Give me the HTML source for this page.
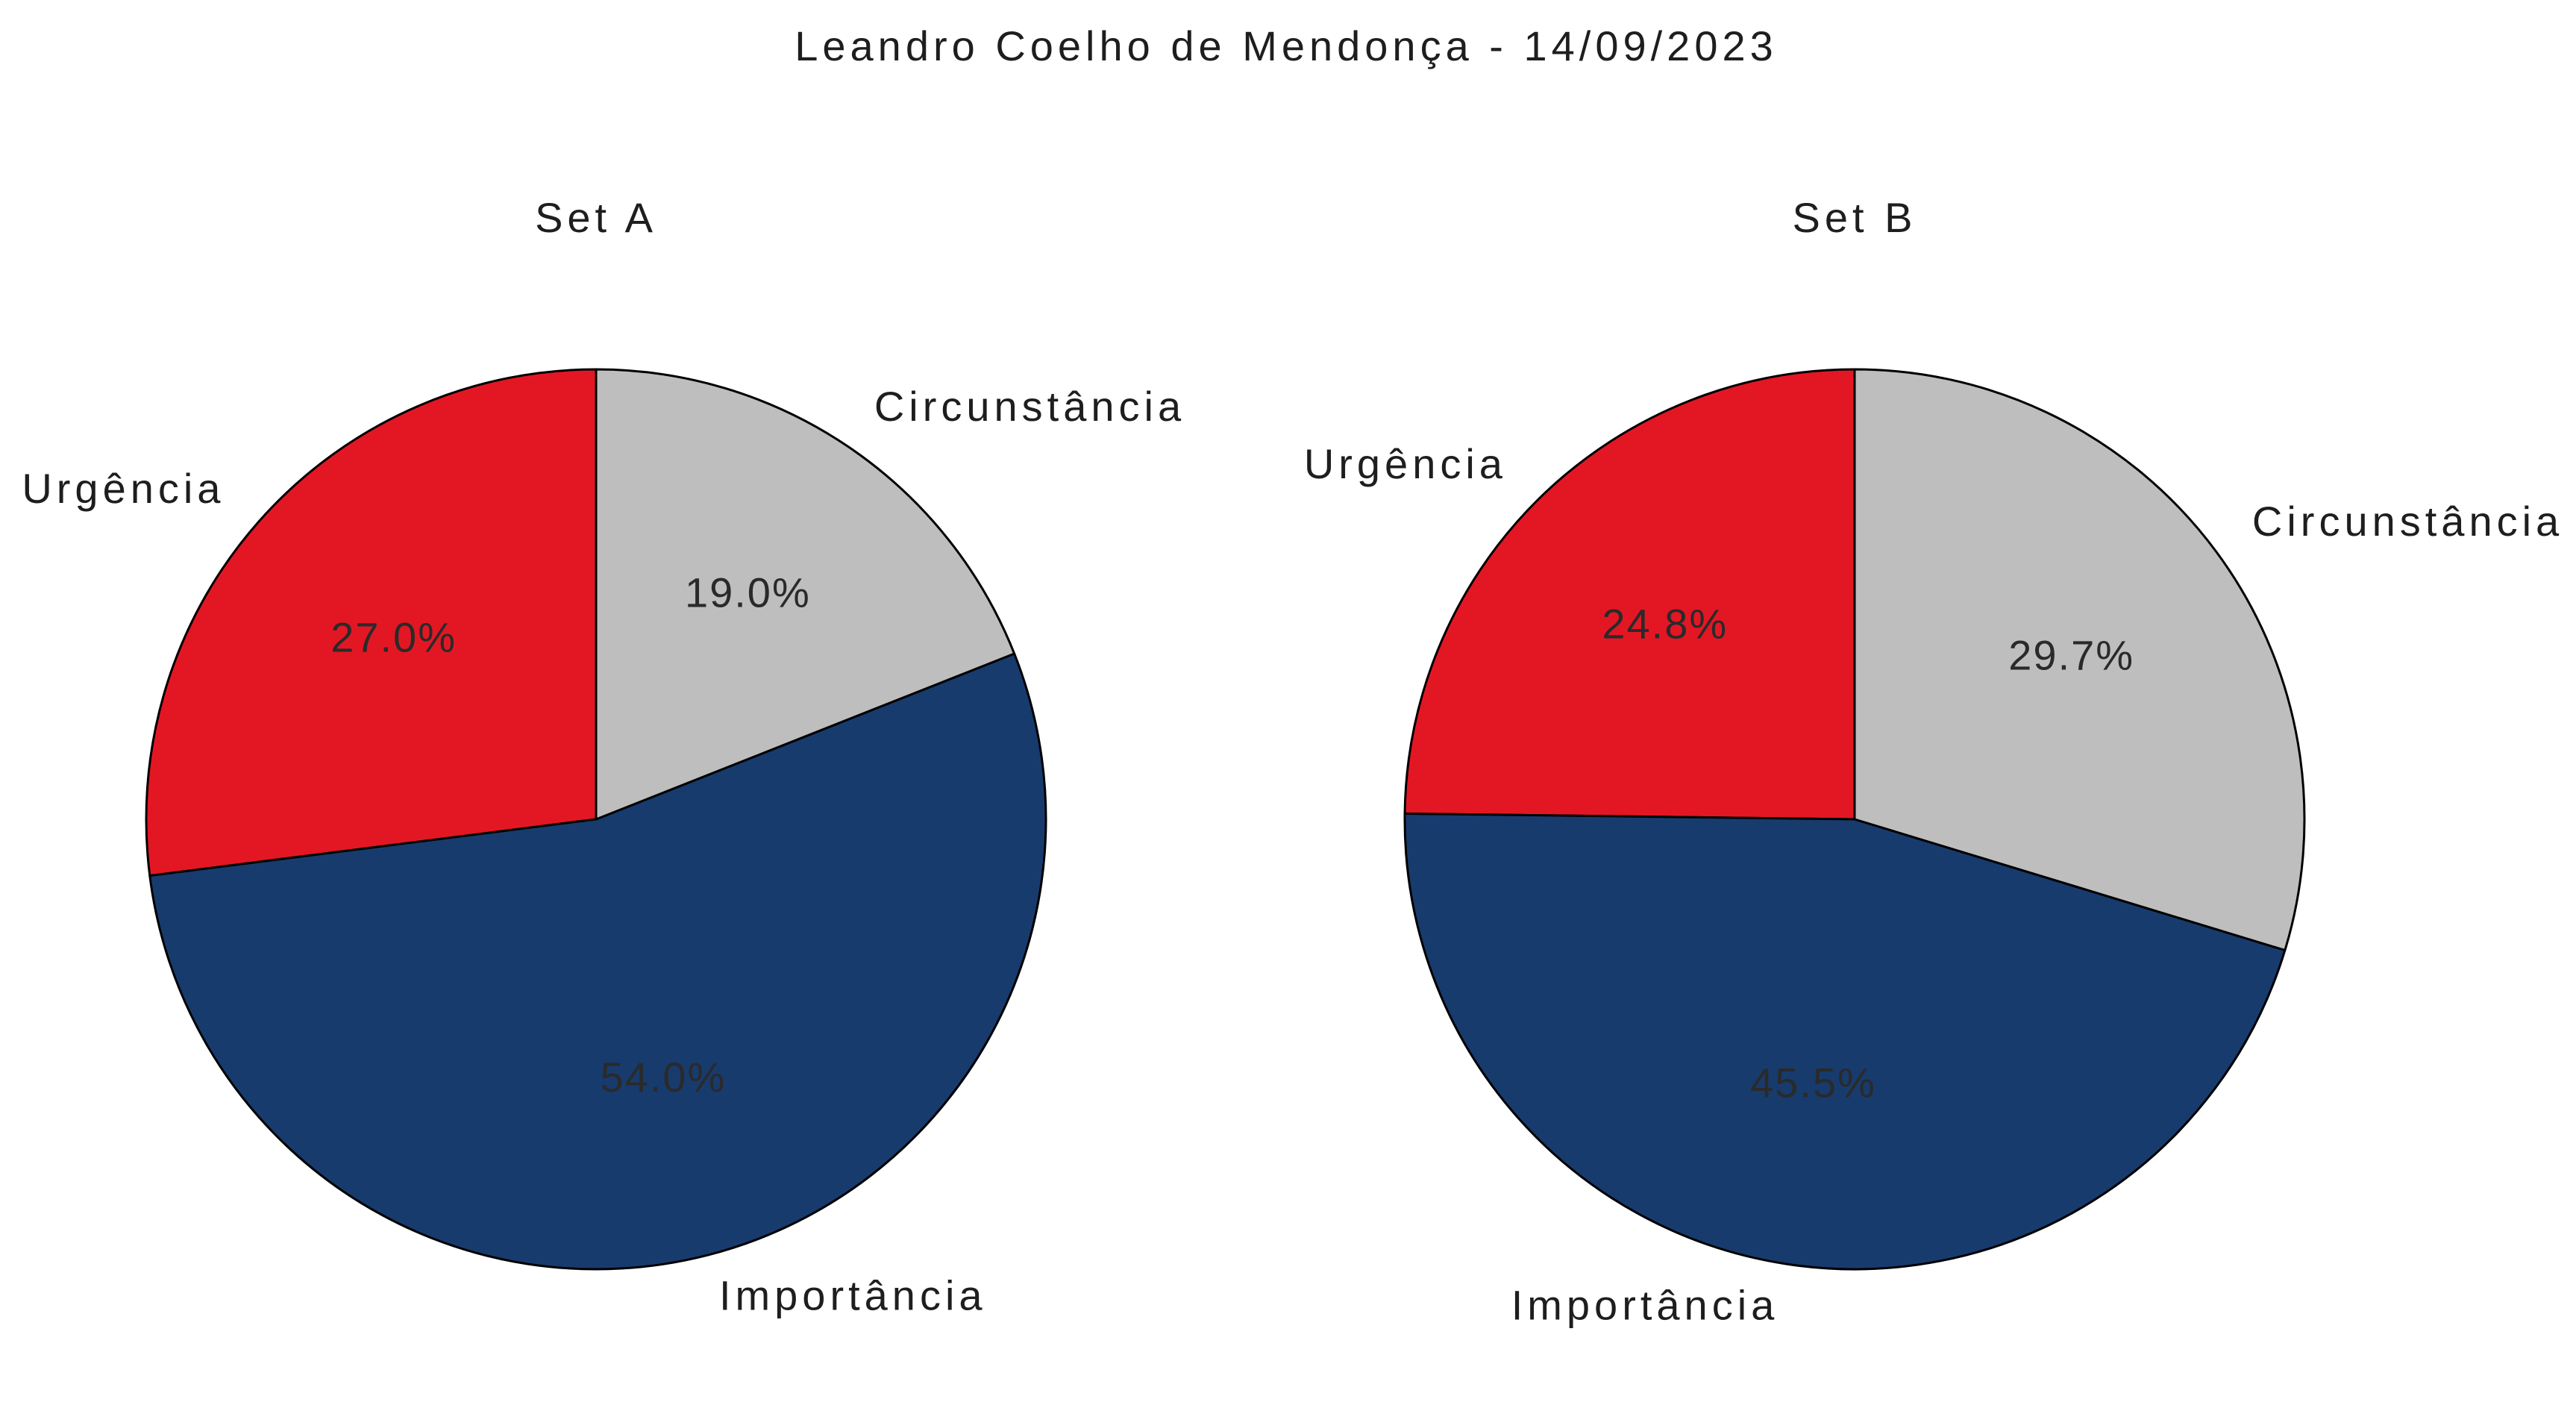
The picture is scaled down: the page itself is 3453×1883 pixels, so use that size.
<!DOCTYPE html>
<html><head><meta charset="utf-8">
<style>
html,body{margin:0;padding:0;background:#fff;}
svg{display:block;}
text{font-family:"Liberation Sans",sans-serif;fill:#1e1e1e;}
</style></head>
<body>
<svg id="chart" width="3453" height="1883" viewBox="0 0 3453 1883" xmlns="http://www.w3.org/2000/svg">
<text x="1724" y="66" font-size="56" letter-spacing="6" text-anchor="middle" dominant-baseline="middle">Leandro Coelho de Mendonça - 14/09/2023</text>
</svg>
<script>
const categories = ["Urgência", "Importância", "Circunstância"];
const setAValues = [27.0, 54.0, 19.0];
const setBValues = [24.8, 45.5, 29.7];
const setTitles = ["Set A", "Set B"];
const colors = ["#e31724", "#183b6d", "#bdbebd"];
const svg = document.getElementById('chart');
const NS = 'http://www.w3.org/2000/svg';
function drawPie(values, cx, cy, r, title, key) {
  const g = document.createElementNS(NS, 'g');
  
  
  svg.appendChild(g);
  const t = document.createElementNS(NS, 'text');
  
  
  t.setAttribute('x', cx); t.setAttribute('y', cy - r - 199);
  t.setAttribute('font-size', '56'); t.setAttribute('text-anchor', 'middle');
  t.setAttribute('letter-spacing', '6');
  t.setAttribute('dominant-baseline', 'middle');
  t.textContent = title; g.appendChild(t);
  const total = values.reduce((a, b) => a + b, 0);
  let a0 = 90;
  values.forEach((v, i) => {
    const sweep = v / total * 360;
    const a1 = a0 + sweep;
    const rad = d => d * Math.PI / 180;
    const x0 = cx + r * Math.cos(rad(a0)), y0 = cy - r * Math.sin(rad(a0));
    const x1 = cx + r * Math.cos(rad(a1)), y1 = cy - r * Math.sin(rad(a1));
    const p = document.createElementNS(NS, 'path');
    
    
    p.setAttribute('d', `M${cx},${cy} L${x0},${y0} A${r},${r} 0 ${sweep > 180 ? 1 : 0} 0 ${x1},${y1} Z`);
    p.setAttribute('fill', colors[i]); p.setAttribute('stroke', '#000'); p.setAttribute('stroke-width', '3');
    p.setAttribute('stroke-linejoin', 'round');
    g.appendChild(p);
    const mid = rad((a0 + a1) / 2);
    const lx = cx + 1.1 * r * Math.cos(mid), ly = cy - 1.1 * r * Math.sin(mid);
    const lab = document.createElementNS(NS, 'text');
    
    
    lab.setAttribute('x', lx); lab.setAttribute('y', ly);
    lab.setAttribute('font-size', '56');
    lab.setAttribute('letter-spacing', '6');
    lab.setAttribute('text-anchor', Math.cos(mid) >= 0 ? 'start' : 'end');
    lab.setAttribute('dominant-baseline', 'middle');
    lab.textContent = categories[i]; g.appendChild(lab);
    const px = cx + 0.6 * r * Math.cos(mid), py = cy - 0.6 * r * Math.sin(mid);
    const pt = document.createElementNS(NS, 'text');
    
    
    pt.setAttribute('x', px); pt.setAttribute('y', py);
    pt.setAttribute('font-size', '56'); pt.setAttribute('text-anchor', 'middle');
    pt.setAttribute('letter-spacing', '2');
    pt.setAttribute('dominant-baseline', 'middle');
    pt.setAttribute('style', 'fill:#2a2a2a');
    pt.textContent = (v / total * 100).toFixed(1) + '%'; g.appendChild(pt);
    a0 = a1;
  });
}
drawPie(setAValues, 799, 1098, 603, setTitles[0], 'set-a');
drawPie(setBValues, 2486, 1098, 603, setTitles[1], 'set-b');
</script>
</body></html>
